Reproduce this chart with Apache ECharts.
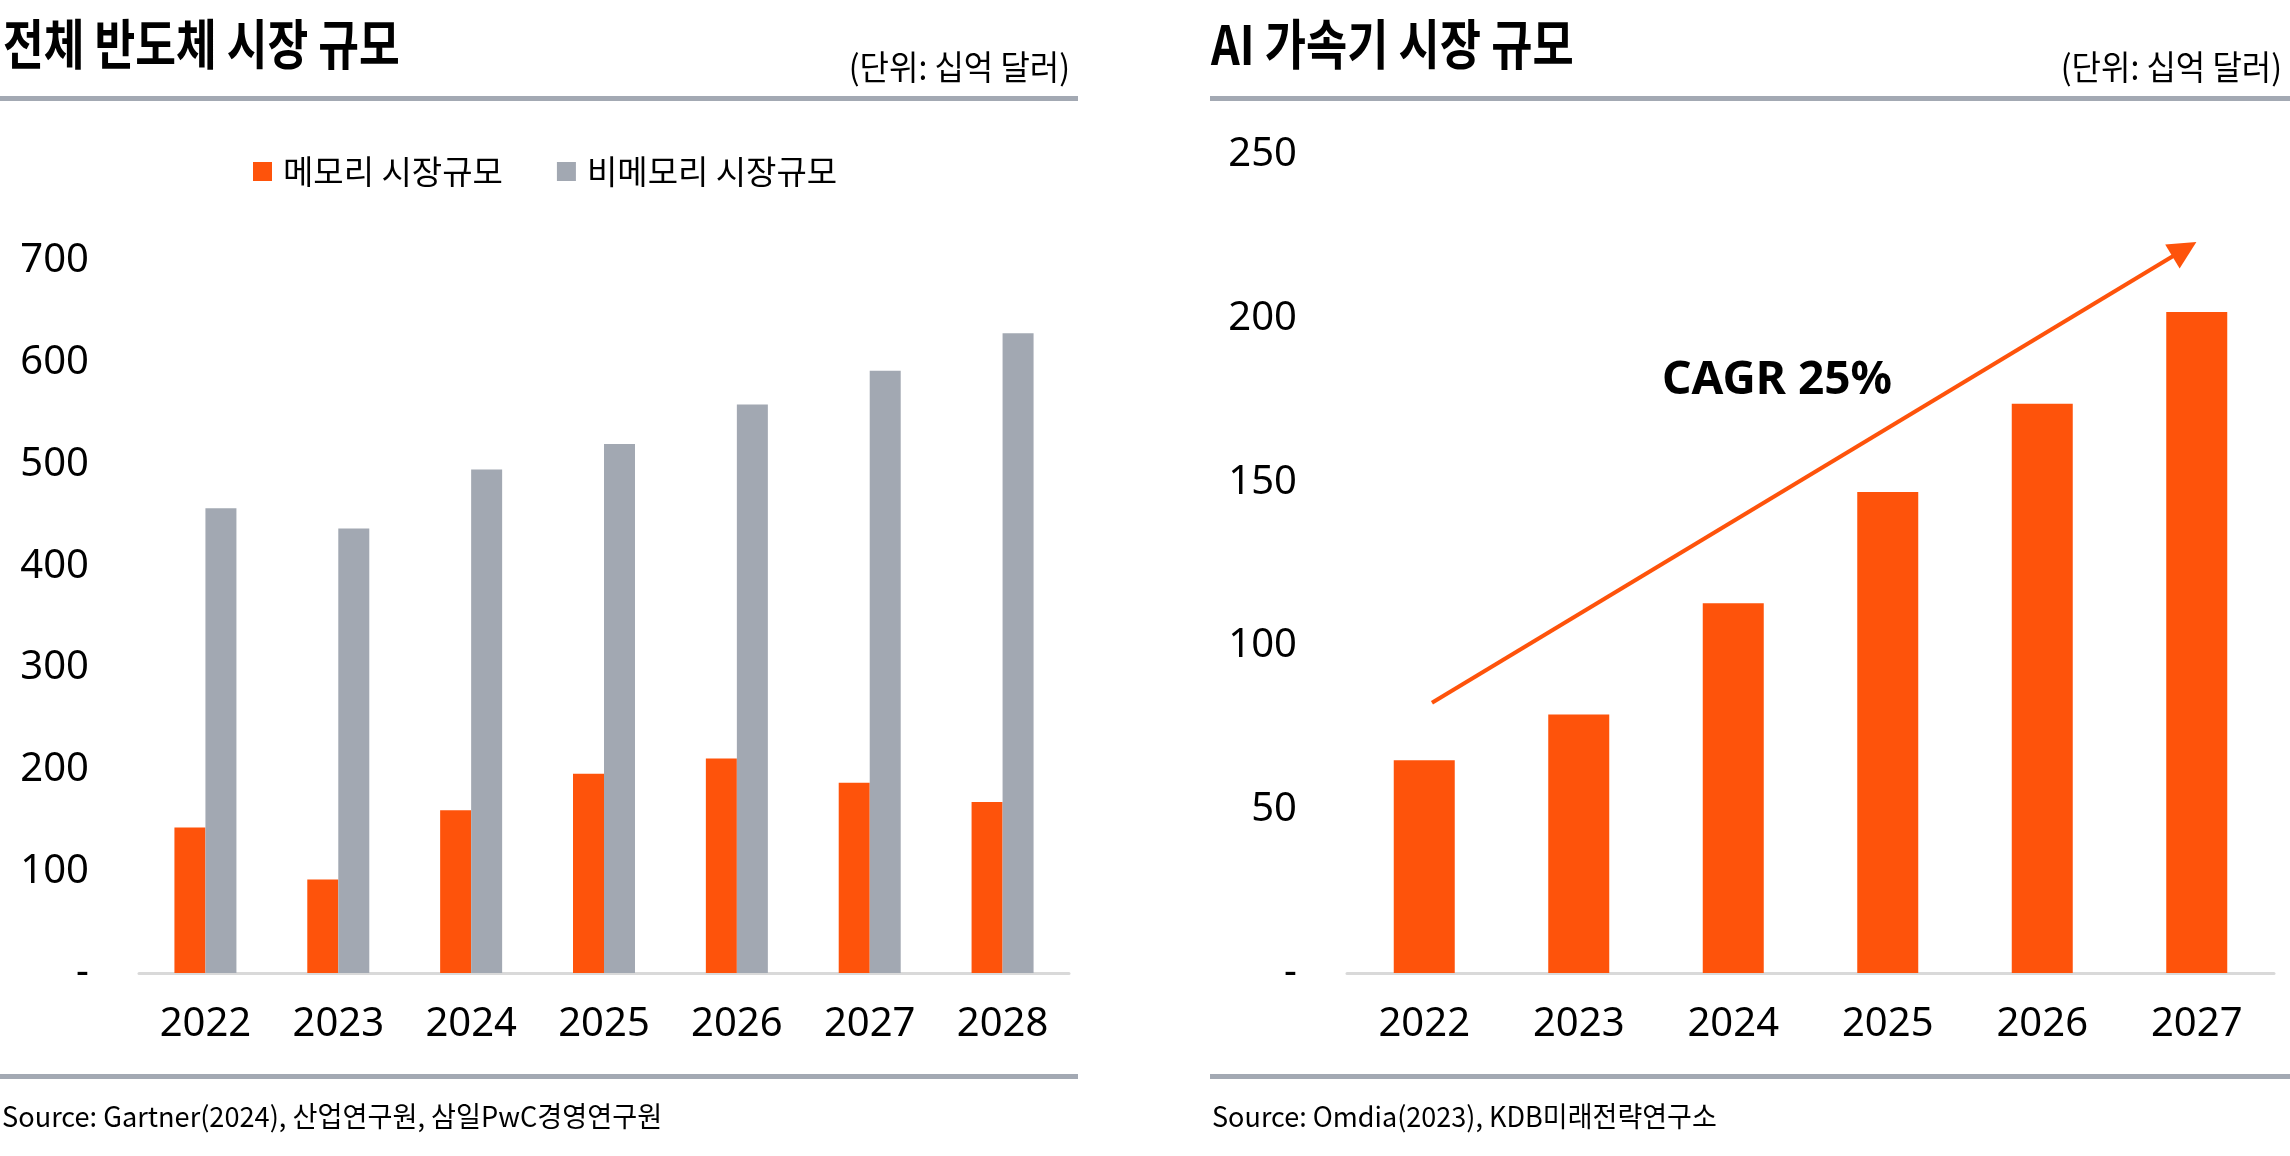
<!DOCTYPE html>
<html><head><meta charset="utf-8">
<script src="https://cdn.jsdelivr.net/npm/echarts@6/dist/echarts.min.js"></script>
<style>html,body{margin:0;padding:0;background:#fff}#c{width:2290px;height:1156px}</style>
</head><body><div id="c"></div>
<script>
// ---- data ----
const semiYears = ['2022', '2023', '2024', '2025', '2026', '2027', '2028'];
const memoryValues = [143, 92, 160, 196, 211, 187, 168];
const nonMemoryValues = [457, 437, 495, 520, 559, 592, 629];
const semiSeriesNames = ['메모리 시장규모', '비메모리 시장규모'];
const semiMax = 700, semiStep = 100;

const aiYears = ['2022', '2023', '2024', '2025', '2026', '2027'];
const aiValues = [65, 79, 113, 147, 174, 202];
const aiMax = 250, aiStep = 50;
// CAGR arrow ends as (category position, value); 0 = centre of 2022, 5 = centre of 2027
const cagrFrom = [0.05, 82.6];
const cagrTo = [4.92, 221.2];
const cagrText = 'CAGR 25%';

const titles = ['전체 반도체 시장 규모', 'AI 가속기 시장 규모'];
const unitText = '(단위: 십억 달러)';
const sources = ['Source: Gartner(2024), 산업연구원, 삼일PwC경영연구원', 'Source: Omdia(2023), KDB미래전략연구소'];

// ---- style ----
const ORANGE = '#FE530B';
const GRAY = '#A2A8B2';
const RULE = '#A3A9B3';
const KR = '"Noto Sans CJK KR", "Noto Sans", sans-serif';
const NUM = '"Noto Sans", "Noto Sans CJK KR", sans-serif';

const tickFmt = v => (v === 0 ? '-' : String(v));

const chart = echarts.init(document.getElementById('c'), null, { renderer: 'canvas' });

function txt(x, y, text, font, opts) {
  return Object.assign({
    type: 'text', x: x, y: y, silent: true,
    style: Object.assign({ text: text, font: font, fill: '#000', textAlign: 'left', textVerticalAlign: 'middle' }, opts && opts.style || {})
  }, opts && opts.el || {});
}
function rule(x, y, w) {
  return { type: 'rect', silent: true, shape: { x: x, y: y, width: w, height: 5 }, style: { fill: RULE } };
}

const axisLabelStyle = { color: '#000', fontSize: 40, fontFamily: NUM };

chart.setOption({
  animation: false,
  backgroundColor: '#fff',
  legend: {
    data: semiSeriesNames,
    left: 248, top: 150,
    icon: 'rect', itemWidth: 19, itemHeight: 19, itemGap: 54,
    textStyle: { fontSize: 33, fontFamily: KR, color: '#000', padding: [0, 0, 0, 6] },
    selectedMode: false
  },
  grid: [
    { left: 139, right: 2290 - 1069, top: 261, bottom: 1156 - 973, containLabel: false },
    { left: 1347, right: 2290 - 2274, top: 155, bottom: 1156 - 973, containLabel: false }
  ],
  xAxis: [
    { type: 'category', gridIndex: 0, data: semiYears,
      axisLine: { lineStyle: { color: '#D9D9D9', width: 3 } }, axisTick: { show: false },
      axisLabel: Object.assign({ margin: 32 }, axisLabelStyle) },
    { type: 'category', gridIndex: 1, data: aiYears,
      axisLine: { lineStyle: { color: '#D9D9D9', width: 3 } }, axisTick: { show: false },
      axisLabel: Object.assign({ margin: 32 }, axisLabelStyle) },
    // hidden continuous twin of the AI category axis, used to place the CAGR arrow
    { type: 'value', gridIndex: 1, min: -0.5, max: aiYears.length - 0.5, show: false }
  ],
  yAxis: [
    { type: 'value', gridIndex: 0, min: 0, max: semiMax, interval: semiStep,
      axisLine: { show: false }, axisTick: { show: false }, splitLine: { show: false },
      axisLabel: Object.assign({ margin: 50, formatter: tickFmt }, axisLabelStyle) },
    { type: 'value', gridIndex: 1, min: 0, max: aiMax, interval: aiStep,
      axisLine: { show: false }, axisTick: { show: false }, splitLine: { show: false },
      axisLabel: Object.assign({ margin: 50, formatter: tickFmt }, axisLabelStyle) }
  ],
  series: [
    { name: semiSeriesNames[0], type: 'bar', xAxisIndex: 0, yAxisIndex: 0, data: memoryValues,
      barWidth: 31, barGap: '0%', itemStyle: { color: ORANGE } },
    { name: semiSeriesNames[1], type: 'bar', xAxisIndex: 0, yAxisIndex: 0, data: nonMemoryValues,
      barWidth: 31, barGap: '0%', itemStyle: { color: GRAY } },
    { name: 'AI', type: 'bar', xAxisIndex: 1, yAxisIndex: 1, data: aiValues,
      barWidth: 61, itemStyle: { color: ORANGE } },
    { name: 'CAGR', type: 'line', xAxisIndex: 2, yAxisIndex: 1, data: [],
      markLine: {
        silent: true, symbol: ['none', 'triangle'], symbolSize: 28,
        lineStyle: { color: ORANGE, width: 4, type: 'solid' },
        itemStyle: { color: ORANGE },
        label: { show: false },
        data: [[{ coord: cagrFrom }, { coord: cagrTo }]]
      }
    }
  ],
  graphic: [
    txt(3, 44, titles[0], 'bold 54px ' + KR, { el: { scaleX: 0.82 } }),
    txt(1211, 44, titles[1], 'bold 54px ' + KR, { el: { scaleX: 0.83 } }),
    txt(1070, 67, unitText, '34px ' + KR, { el: { scaleX: 0.94 }, style: { textAlign: 'right' } }),
    txt(2282, 67, unitText, '34px ' + KR, { el: { scaleX: 0.94 }, style: { textAlign: 'right' } }),
    rule(0, 96, 1078),
    rule(1210, 96, 1080),
    rule(0, 1074, 1078),
    rule(1210, 1074, 1080),
    txt(2, 1116, sources[0], '28px ' + KR, { el: { scaleX: 0.97 } }),
    txt(1212, 1116, sources[1], '28px ' + KR, { el: { scaleX: 0.965 } }),
    txt(1662, 381, cagrText, 'bold 46px ' + NUM)
  ]
});
</script>
</body></html>
